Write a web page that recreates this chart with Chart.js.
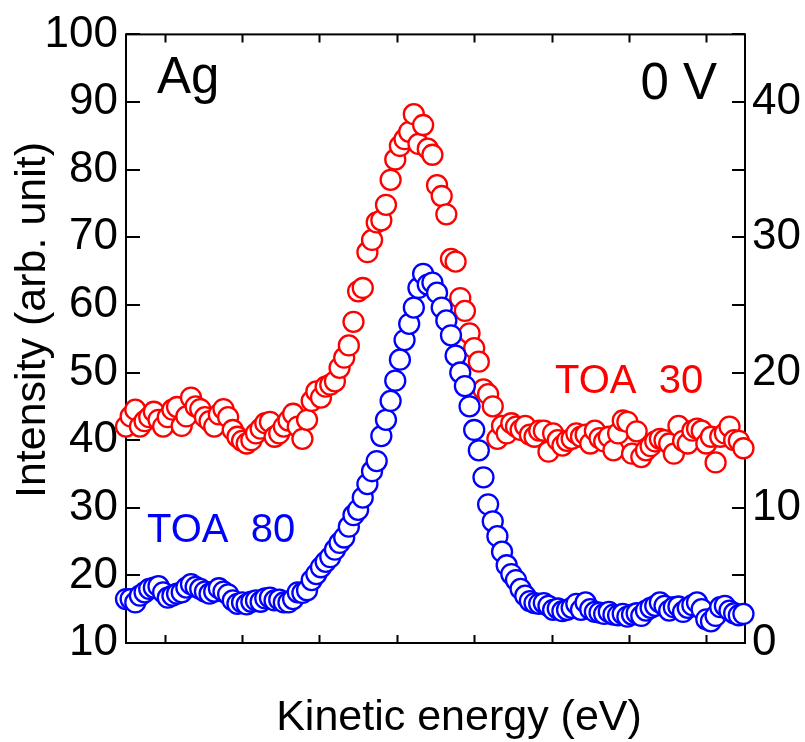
<!DOCTYPE html>
<html>
<head>
<meta charset="utf-8">
<script src="https://cdn.jsdelivr.net/npm/chart.js@4.4.1/dist/chart.umd.min.js"></script>
<style>
  html, body { margin: 0; padding: 0; background: #fff; }
  #wrap { width: 805px; height: 742px; position: relative; }
</style>
</head>
<body>
<div id="wrap"><canvas id="chart"></canvas></div>
<script>
// kinetic energy (arb. scale, 0..8 across the frame)
const energy = [
  0.00,0.06,0.12,0.18,0.24,0.30,0.36,0.42,0.48,0.54,0.60,0.66,0.72,0.78,0.84,0.90,0.96,1.02,1.08,1.14,
  1.20,1.26,1.32,1.38,1.44,1.50,1.56,1.62,1.68,1.74,1.80,1.86,1.92,1.98,2.04,2.10,2.16,2.22,2.28,2.34,
  2.40,2.46,2.52,2.58,2.64,2.70,2.76,2.82,2.88,2.94,3.00,3.06,3.12,3.18,3.24,3.30,3.36,3.42,3.48,3.54,
  3.60,3.66,3.72,3.78,3.84,3.90,3.96,4.02,4.08,4.14,4.20,4.26,4.32,4.38,4.44,4.50,4.56,4.62,4.68,4.74,
  4.80,4.86,4.92,4.98,5.04,5.10,5.16,5.22,5.28,5.34,5.40,5.46,5.52,5.58,5.64,5.70,5.76,5.82,5.88,5.94,
  6.00,6.06,6.12,6.18,6.24,6.30,6.36,6.42,6.48,6.54,6.60,6.66,6.72,6.78,6.84,6.90,6.96,7.02,7.08,7.14,
  7.20,7.26,7.32,7.38,7.44,7.50,7.56,7.62,7.68,7.74,7.80,7.86,7.92,7.98
];

// TOA 80 (blue), left-axis units
const toa80 = [
  16.5,16.5,16.0,17.0,17.5,18.0,18.2,18.4,17.5,16.7,
  17.0,17.3,17.5,18.2,18.7,18.3,18.0,17.6,17.3,17.6,
  18.1,17.6,17.2,16.3,15.8,16.0,15.7,16.1,16.3,16.1,
  16.6,16.7,16.3,16.4,16.0,16.0,16.5,17.5,17.4,17.8,
  19.3,20.2,21.2,22.0,22.7,23.8,24.8,25.6,27.2,28.9,
  29.7,31.5,33.5,35.4,36.9,40.6,43.0,45.8,48.8,51.9,
  54.8,57.2,59.6,62.5,64.6,63.0,63.3,61.8,59.6,57.7,
  55.5,52.5,50.0,48.0,45.0,41.5,38.5,34.5,30.5,28.0,
  25.8,23.5,21.5,20.2,19.3,18.0,17.0,16.2,15.9,15.8,
  15.9,15.5,14.9,15.1,14.7,14.9,15.2,15.8,14.9,16.0,
  15.0,14.6,14.5,14.3,14.6,14.2,14.1,14.3,13.9,14.2,
  14.4,14.0,14.8,15.2,15.5,16.0,15.5,14.8,15.3,15.4,
  14.6,15.2,15.6,16.0,15.0,13.5,13.2,14.0,15.3,15.5,
  14.8,14.4,14.1,14.3
];

// TOA 30 (red), left-axis units
const toa30 = [
  42.0,43.5,44.5,42.0,42.8,43.4,44.2,43.0,42.0,43.4,
  44.5,44.9,42.1,43.5,46.3,45.0,44.6,43.4,42.8,42.0,
  43.8,44.6,43.4,41.5,40.5,39.9,39.5,40.0,41.0,41.7,
  42.5,42.7,40.5,41.0,42.0,42.9,43.9,42.0,40.2,43.0,
  45.8,47.2,46.3,47.9,48.2,48.7,50.7,52.2,54.0,57.5,
  62.0,62.5,67.8,69.6,72.2,72.5,74.8,78.5,81.5,83.5,
  84.5,85.6,88.2,83.8,86.6,83.1,82.2,77.7,76.1,73.4,
  66.8,66.4,61.0,59.1,55.8,53.6,51.6,47.5,46.8,45.0,
  40.2,42.1,41.0,42.5,42.0,41.5,42.1,40.8,40.5,41.4,
  41.4,38.3,41.0,40.0,39.2,39.9,40.2,41.0,40.5,40.8,
  39.5,41.4,40.3,39.8,40.5,38.5,41.0,42.9,42.7,38.0,
  41.3,37.5,38.5,39.1,39.8,40.2,40.0,39.5,38.0,42.1,
  39.9,39.5,41.4,41.7,41.4,39.5,40.5,36.7,40.5,41.0,
  42.0,40.0,39.9,38.8
];

const xTicks = [0.5,1.5,2.5,3.5,4.5,5.5,6.5,7.5];
const leftTicks = [10,20,30,40,50,60,70,80,90,100];
const rightTicks = [0,5,10,15,20,25,30,35,40,45];
const rightLabels = [0,10,20,30,40];

const FONT = "'Liberation Sans', Arial, Helvetica, sans-serif";

function pts(ys) { return ys.map((y, i) => ({ x: energy[i], y: y })); }

const frame = {
  id: 'frame',
  beforeDatasetsDraw(chart) {
    const { ctx, chartArea: a, scales } = chart;
    ctx.save();
    ctx.strokeStyle = '#000';
    ctx.lineWidth = 2;
    ctx.strokeRect(a.left, a.top, a.right - a.left, a.bottom - a.top);
    ctx.beginPath();
    xTicks.forEach(v => {
      const px = Math.round(scales.x.getPixelForValue(v)) + 0.5;
      ctx.moveTo(px, a.bottom); ctx.lineTo(px, a.bottom - 8);
      ctx.moveTo(px, a.top); ctx.lineTo(px, a.top + 8);
    });
    leftTicks.forEach(v => {
      const py = Math.round(scales.y.getPixelForValue(v));
      ctx.moveTo(a.left, py); ctx.lineTo(a.left + 14, py);
    });
    rightTicks.forEach(v => {
      const py = Math.round(scales.y2.getPixelForValue(v));
      ctx.moveTo(a.right, py); ctx.lineTo(a.right - 13, py);
    });
    ctx.stroke();
    ctx.restore();
  },
  afterDraw(chart) {
    const ctx = chart.ctx;
    ctx.save();
    ctx.fillStyle = '#000';
    ctx.textBaseline = 'alphabetic';
    ctx.font = '51px ' + FONT;
    ctx.textAlign = 'left';
    ctx.fillText('Ag', 157, 93);
    ctx.textAlign = 'right';
    ctx.fillText('0 V', 717, 99);

    ctx.font = '40px ' + FONT;
    ctx.textAlign = 'left';
    ctx.fillStyle = '#ff0000';
    ctx.fillText('TOA  30', 555, 393);
    ctx.fillStyle = '#0000ff';
    ctx.fillText('TOA  80', 147, 542);

    ctx.fillStyle = '#000';
    ctx.font = '43px ' + FONT;
    ctx.textAlign = 'center';
    ctx.fillText('Kinetic energy (eV)', 459, 730);
    ctx.translate(45, 320);
    ctx.rotate(-Math.PI / 2);
    ctx.fillText('Intensity (arb. unit)', 0, 0);
    ctx.restore();
  }
};

new Chart(document.getElementById('chart'), {
  type: 'scatter',
  data: {
    datasets: [
      { label: 'TOA 80', data: pts(toa80), yAxisID: 'y', borderColor: '#0000ff', backgroundColor: '#ffffff',
        pointRadius: 10, pointBorderWidth: 2.3, pointHoverRadius: 10, clip: false, showLine: false },
      { label: 'TOA 30', data: pts(toa30), yAxisID: 'y', borderColor: '#ff0000', backgroundColor: '#ffffff',
        pointRadius: 10, pointBorderWidth: 2.3, pointHoverRadius: 10, clip: false, showLine: false }
    ]
  },
  options: {
    responsive: true,
    maintainAspectRatio: false,
    animation: false,
    layout: { padding: { top: 24, bottom: 99, left: 0, right: 0 } },
    plugins: { legend: { display: false }, tooltip: { enabled: false } },
    scales: {
      x: { type: 'linear', min: 0, max: 8, display: false },
      y: {
        position: 'left', min: 10, max: 100,
        afterBuildTicks: s => { s.ticks = leftTicks.map(v => ({ value: v })); },
        afterFit: s => { s.width = 126; },
        grid: { display: false, drawTicks: false }, border: { display: false },
        ticks: { color: '#000', padding: 8, autoSkip: false, font: { family: FONT, size: 44 } }
      },
      y2: {
        position: 'right', min: 0, max: 45,
        afterBuildTicks: s => { s.ticks = rightTicks.map(v => ({ value: v })); },
        afterFit: s => { s.width = 60; },
        grid: { display: false, drawTicks: false }, border: { display: false },
        ticks: { color: '#000', padding: 7, autoSkip: false, font: { family: FONT, size: 44 },
          callback: v => rightLabels.includes(v) ? String(v) : '' }
      }
    }
  },
  plugins: [frame]
});
</script>
</body>
</html>
